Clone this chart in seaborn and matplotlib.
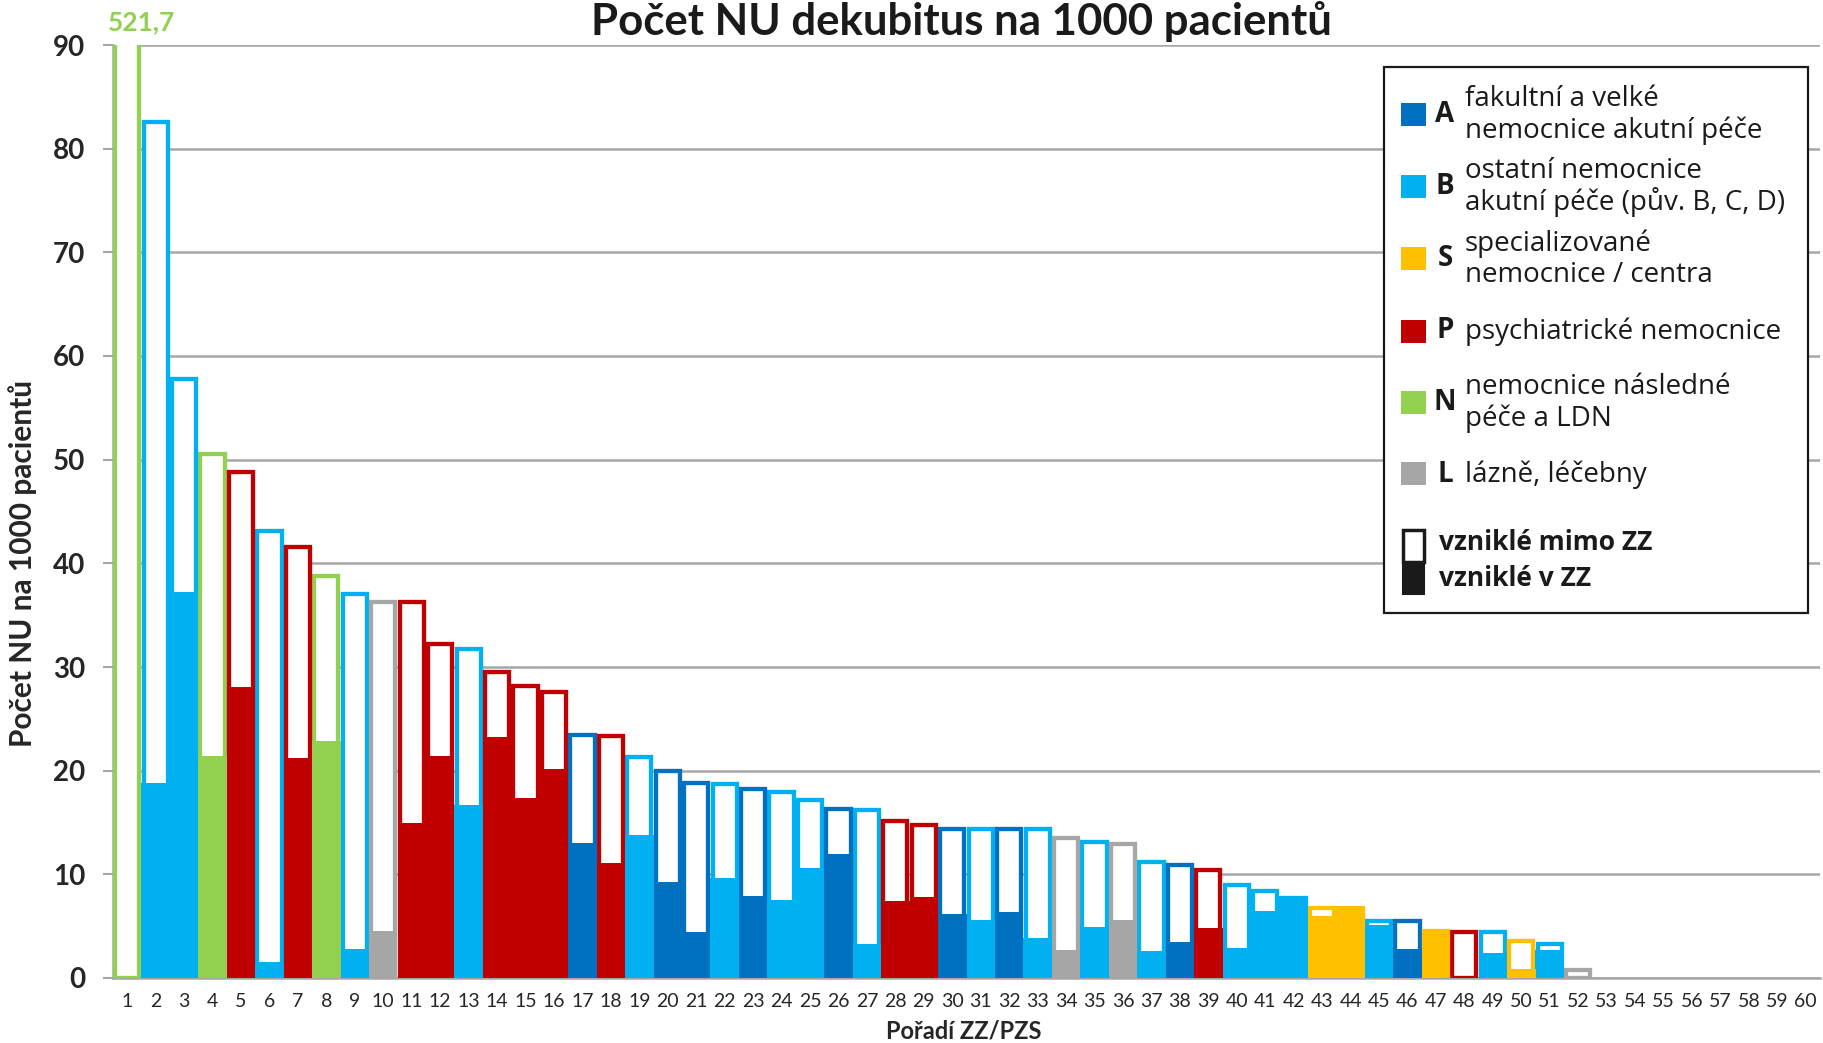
import numpy as np
import pandas as pd
import matplotlib.pyplot as plt
from matplotlib.patches import Rectangle
import seaborn as sns

# ranks 1..60 on the x axis (only 1..52 have data)
positions = [str(i) for i in range(1, 61)]

# hospital type of each ranked facility
categories = ['N', 'B', 'B', 'N', 'P', 'B', 'P', 'N', 'B', 'L',
              'P', 'P', 'B', 'P', 'P', 'P', 'A', 'P', 'B', 'A',
              'A', 'B', 'A', 'B', 'B', 'A', 'B', 'P', 'P', 'A',
              'B', 'A', 'B', 'L', 'B', 'L', 'B', 'A', 'P', 'B',
              'B', 'B', 'S', 'S', 'B', 'A', 'S', 'P', 'B', 'S',
              'B', 'L']

# total pressure ulcers per 1000 patients (outline)
total = [521.7, 82.8, 58.0, 50.7, 49.0, 43.3, 41.8, 39.0, 37.2, 36.5,
         36.5, 32.4, 31.9, 29.7, 28.4, 27.8, 23.6, 23.5, 21.5, 20.2,
         19.0, 18.9, 18.4, 18.1, 17.4, 16.5, 16.4, 15.3, 15.0, 14.6,
         14.6, 14.6, 14.6, 13.7, 13.3, 13.1, 11.4, 11.1, 10.6, 9.2,
         8.6, 7.9, 7.0, 6.9, 5.7, 5.7, 4.7, 4.6, 4.6, 3.8,
         3.5, 1.0]

# of which originated in the facility (filled part)
in_zz = [0.0, 18.8, 37.2, 21.4, 28.1, 1.5, 21.2, 22.9, 2.8, 4.5,
         15.0, 21.4, 16.7, 23.2, 17.4, 20.2, 13.0, 11.1, 13.8, 9.3,
         4.4, 9.6, 7.9, 7.5, 10.6, 12.0, 3.3, 7.4, 7.8, 6.2,
         5.6, 6.4, 3.9, 2.7, 4.9, 5.6, 2.6, 3.5, 4.8, 2.9,
         6.5, 7.9, 6.0, 6.9, 5.1, 2.8, 4.7, 0.0, 2.4, 0.9,
         2.7, 0.0]

# legend
codes = ['A', 'B', 'S', 'P', 'N', 'L']
descriptions = ['fakultní a velké\nnemocnice akutní péče',
                'ostatní nemocnice\nakutní péče (pův. B, C, D)',
                'specializované\nnemocnice / centra',
                'psychiatrické nemocnice',
                'nemocnice následné\npéče a LDN',
                'lázně, léčebny']
colors = ['#0070C0', '#00B0F0', '#FFC000', '#C00000', '#92D050', '#A6A6A6']
palette = dict(zip(codes, colors))

df = pd.DataFrame({'rank': positions[:len(total)], 'typ': categories,
                   'total': total, 'in_zz': in_zz})

sns.set_theme(style='white')
plt.rcParams['font.family'] = ['Lato', 'DejaVu Sans']
legend_font = ['Open Sans', 'DejaVu Sans']

W, H = 1823, 1043
fig = plt.figure(figsize=(W / 100, H / 100), dpi=100)
ax = fig.add_axes([113 / W, 1 - 978 / H, 1707 / W, 933 / H])

def fx(x):
    return x / W

def fy(y):
    return 1 - y / H

# outline bars (total)
sns.barplot(data=df, x='rank', y='total', hue='typ', palette=palette, order=positions,
            dodge=False, fill=False, width=0.85, linewidth=3.1, legend=False, ax=ax)
n_outline = len(ax.patches)
for p in ax.patches[:n_outline]:
    p.set_facecolor('white')
    p.set_height(p.get_height() - 0.2)
    p.set_joinstyle('miter')

# filled bars (originated in the facility)
sns.barplot(data=df, x='rank', y='in_zz', hue='typ', palette=palette, order=positions,
            dodge=False, width=1.0, linewidth=0, saturation=1, legend=False, ax=ax)

ax.set_ylim(0, 90)
ax.set_xlim(-0.5, 59.5)
ax.set_yticks(range(0, 91, 10))
ax.set_axisbelow(True)
ax.yaxis.grid(True, color='#A6A6A6', linewidth=1.8)
ax.xaxis.grid(False)
for s in ['top', 'right']:
    ax.spines[s].set_visible(False)
for s in ['left', 'bottom']:
    ax.spines[s].set_color('#A6A6A6')
    ax.spines[s].set_linewidth(1.8)
    ax.spines[s].set_zorder(0.5)

ax.set_xticks(np.arange(-0.5, 60, 1), minor=True)
ax.tick_params(axis='x', which='major', length=0, pad=11, labelsize=14, labelcolor='#262626')
ax.tick_params(axis='x', which='minor', length=4.5, width=1.5, color='#A6A6A6', direction='out')
ax.tick_params(axis='y', which='major', length=7, width=1.5, color='#A6A6A6', left=True,
               pad=13, labelsize=20, labelcolor='#262626')
for t in ax.get_yticklabels():
    t.set_fontweight('bold')

ax.set_xlabel('Pořadí ZZ/PZS', fontsize=17, fontweight='bold', color='#262626')
ax.xaxis.set_label_coords(0.4985, -0.057)
ax.xaxis.label.set_va('center')
ax.set_ylabel('Počet NU na 1000 pacientů', fontsize=21.5, fontweight='bold', color='#262626')
ax.yaxis.set_label_coords(-0.0527, 0.444)
ax.yaxis.label.set_va('center')

# value of the clipped first bar
ax.annotate(f'{total[0]:.1f}'.replace('.', ','), xy=(0, 90), xytext=(10, 8),
            textcoords='offset points', ha='center', va='bottom',
            color='#92D050', fontsize=19, fontweight='bold', annotation_clip=False)

fig.text(fx(961), fy(1), 'Počet NU dekubitus na 1000 pacientů', ha='center', va='top',
         fontsize=31.5, fontweight='bold', color='#1a1a1a')

# legend box
fig.add_artist(Rectangle((fx(1384), fy(613)), (1808 - 1384) / W, (613 - 67) / H,
                         transform=fig.transFigure, facecolor='white', edgecolor='#1a1a1a',
                         linewidth=1.6, zorder=5))
y_centers = [114, 186, 258, 331, 402, 474]
for code, desc, col, yc in zip(codes, descriptions, colors, y_centers):
    fig.add_artist(Rectangle((fx(1401), fy(yc + 11.5)), 25 / W, 23 / H,
                             transform=fig.transFigure, facecolor=col, edgecolor='none', zorder=6))
    fig.text(fx(1445), fy(yc), code, ha='center', va='center', fontsize=20,
             fontweight='bold', color='#1a1a1a', family=legend_font, zorder=7)
    fig.text(fx(1465), fy(yc + 1), desc, ha='left', va='center', fontsize=20,
             linespacing=1.12, color='#1a1a1a', family=legend_font, zorder=7)

fig.add_artist(Rectangle((fx(1403), fy(594)), 21 / W, 32 / H, transform=fig.transFigure,
                         facecolor='#1a1a1a', edgecolor='#1a1a1a', linewidth=1.5, zorder=6))
fig.add_artist(Rectangle((fx(1403), fy(562)), 21 / W, 32 / H, transform=fig.transFigure,
                         facecolor='white', edgecolor='#1a1a1a', linewidth=2.5, zorder=6))
fig.text(fx(1439), fy(542), 'vzniklé mimo ZZ', ha='left', va='center', fontsize=19,
         fontweight='bold', color='#1a1a1a', family=legend_font, zorder=7)
fig.text(fx(1439), fy(579), 'vzniklé v ZZ', ha='left', va='center', fontsize=19,
         fontweight='bold', color='#1a1a1a', family=legend_font, zorder=7)

fig.savefig('out.png', dpi=100)
